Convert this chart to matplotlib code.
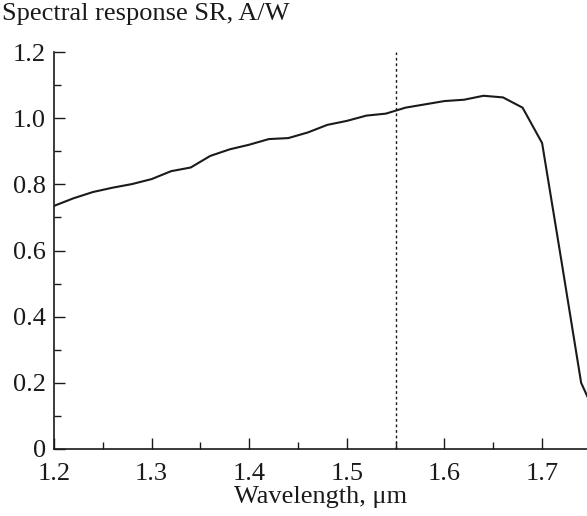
import numpy as np
import matplotlib
matplotlib.use('Agg')
from matplotlib import pyplot as plt
from matplotlib.ticker import MultipleLocator

plt.rcParams['font.family'] = ['Liberation Serif', 'DejaVu Serif']
plt.rcParams['mathtext.fontset'] = 'stix'

WAVELENGTH = [1.20, 1.22, 1.24, 1.26, 1.28, 1.30, 1.32, 1.34, 1.36, 1.38,
              1.40, 1.42, 1.44, 1.46, 1.48, 1.50, 1.52, 1.54, 1.56, 1.58,
              1.60, 1.62, 1.64, 1.66, 1.68, 1.70, 1.72, 1.74, 1.76]
SR = [0.735, 0.758, 0.777, 0.790, 0.801, 0.816, 0.840, 0.851, 0.886, 0.906,
      0.920, 0.937, 0.940, 0.957, 0.980, 0.992, 1.008, 1.014, 1.032, 1.042,
      1.052, 1.056, 1.068, 1.063, 1.032, 0.925, 0.565, 0.200, 0.070]
MARK_WL = 1.55

FS = 19

fig = plt.figure(figsize=(5.87, 5.16), dpi=100)
ax = fig.add_axes([0.092, 0.130, 0.908, 0.769])

ax.plot(WAVELENGTH, SR, color='#1a1a1a', lw=1.5)
ax.plot([MARK_WL, MARK_WL], [0, 1.2], color='#1a1a1a', lw=1.0, ls=(0, (2, 2)))

ax.set_xlim(1.2, 1.746)
ax.set_ylim(0, 1.2)

ax.xaxis.set_minor_locator(MultipleLocator(0.05))
ax.yaxis.set_minor_locator(MultipleLocator(0.1))
ax.set_yticks([0, 0.2, 0.4, 0.6, 0.8, 1.0, 1.2])
ax.set_yticklabels(['0', '0.2', '0.4', '0.6', '0.8', '1.0', '1.2'])
ax.set_xticks([1.2, 1.3, 1.4, 1.5, 1.6, 1.7])
ax.set_xticklabels(['1.2', '1.3', '1.4', '1.5', '1.6', '1.7'])

for s in ['top', 'right']:
    ax.spines[s].set_visible(False)
for s in ['left', 'bottom']:
    ax.spines[s].set_linewidth(1.2)
    ax.spines[s].set_color('#1a1a1a')

ax.tick_params(which='major', direction='in', length=8, width=1.0,
               labelsize=FS, colors='#1a1a1a')
ax.tick_params(which='minor', direction='in', length=5, width=1.0,
               colors='#1a1a1a')
ax.tick_params(axis='x', which='major', pad=10)
ax.tick_params(axis='y', which='major', pad=6)

ax.set_xlabel('Wavelength, μm', fontsize=FS, labelpad=1, color='#1a1a1a')
fig.text(0.003, 0.972, 'Spectral response SR, A/W', fontsize=FS,
         ha='left', va='center', color='#1a1a1a')

fig.savefig('out.png', dpi=100)
